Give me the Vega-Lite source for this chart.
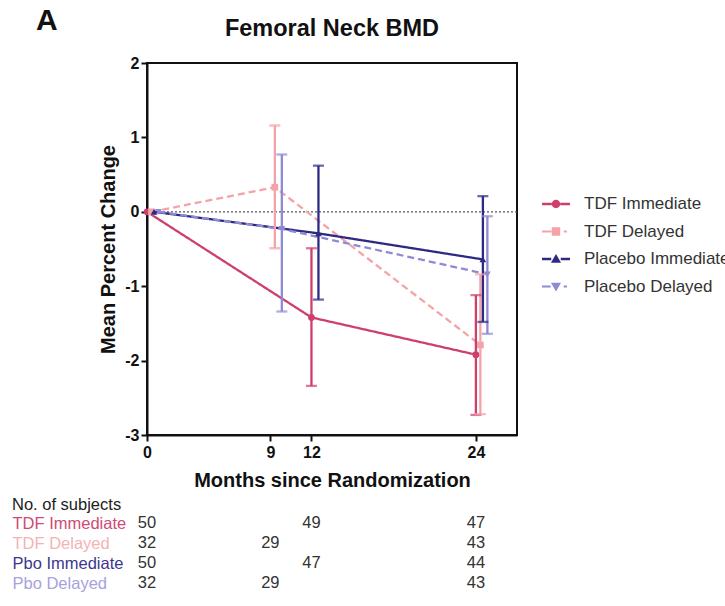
{
  "$schema": "https://vega.github.io/schema/vega-lite/v6.json",
  "background": "white",
  "padding": {"left": 12, "top": 6, "right": 0, "bottom": 0},
  "config": {
    "font": "Liberation Sans",
    "axis": {"grid": false, "labelFlush": false, "domainColor": "#111", "domainWidth": 2, "tickColor": "#111", "tickWidth": 2, "tickSize": 6, "labelFontWeight": "bold", "labelFontSize": 16, "labelColor": "#111", "titleFontSize": 20, "titleFontWeight": "bold", "titleColor": "#111"},
    "legend": {"labelFont": "Liberation Sans"}
  },
  "title": {"text": "A", "anchor": "start", "frame": "bounds", "fontSize": 30, "fontWeight": "bold", "color": "#111", "offset": -20, "dx": 24},
  "datasets": {
    "bmd": [
      {"group": "TDF Immediate", "month": 0, "mean": 0},
      {"group": "TDF Immediate", "month": 12, "mean": -1.42, "lo": -2.34, "hi": -0.49},
      {"group": "TDF Immediate", "month": 24, "mean": -1.92, "lo": -2.73, "hi": -1.12},
      {"group": "TDF Delayed", "month": 0, "mean": 0},
      {"group": "TDF Delayed", "month": 9, "mean": 0.33, "lo": -0.49, "hi": 1.16},
      {"group": "TDF Delayed", "month": 24, "mean": -1.79, "lo": -2.72, "hi": -0.84},
      {"group": "Placebo Immediate", "month": 0, "mean": 0},
      {"group": "Placebo Immediate", "month": 12, "mean": -0.29, "lo": -1.18, "hi": 0.62},
      {"group": "Placebo Immediate", "month": 24, "mean": -0.64, "lo": -1.48, "hi": 0.21},
      {"group": "Placebo Delayed", "month": 0, "mean": 0},
      {"group": "Placebo Delayed", "month": 9, "mean": -0.23, "lo": -1.34, "hi": 0.77},
      {"group": "Placebo Delayed", "month": 24, "mean": -0.84, "lo": -1.64, "hi": -0.06}
    ],
    "counts": [
      {"row": "TDF Immediate", "month": 0, "n": 50},
      {"row": "TDF Immediate", "month": 12, "n": 49},
      {"row": "TDF Immediate", "month": 24, "n": 47},
      {"row": "TDF Delayed", "month": 0, "n": 32},
      {"row": "TDF Delayed", "month": 9, "n": 29},
      {"row": "TDF Delayed", "month": 24, "n": 43},
      {"row": "Pbo Immediate", "month": 0, "n": 50},
      {"row": "Pbo Immediate", "month": 12, "n": 47},
      {"row": "Pbo Immediate", "month": 24, "n": 44},
      {"row": "Pbo Delayed", "month": 0, "n": 32},
      {"row": "Pbo Delayed", "month": 9, "n": 29},
      {"row": "Pbo Delayed", "month": 24, "n": 43}
    ]
  },
  "spacing": 5,
  "resolve": {"scale": {"x": "independent", "y": "independent"}},
  "vconcat": [
    {
      "width": 370,
      "height": 372,
      "view": {"stroke": "#111", "strokeWidth": 2},
      "title": {"text": "Femoral Neck BMD", "fontSize": 23.5, "fontWeight": "bold", "color": "#111", "offset": 14.5, "anchor": "middle"},
      "data": {"name": "bmd"},
      "layer": [
        {
          "data": {"values": [{}]},
          "mark": {"type": "rule", "color": "#555", "strokeDash": [2, 2], "strokeWidth": 1.3},
          "encoding": {
            "y": {"datum": 0, "type": "quantitative", "scale": {"domain": [-3, 2], "nice": false}, "axis": {"values": [-3, -2, -1, 0, 1, 2], "labelExpr": "'' + datum.value", "title": "Mean Percent Change", "labelPadding": 2, "titlePadding": 6}}
          }
        },
        {
          "mark": {"type": "line", "strokeWidth": 2.3,
            "color": {"expr": "datum.group === 'TDF Immediate' ? '#cf3f6c' : datum.group === 'TDF Delayed' ? '#f4a4a8' : datum.group === 'Placebo Immediate' ? '#2e2a84' : '#8f8ad6'"},
            "strokeDash": {"expr": "datum.group === 'TDF Delayed' || datum.group === 'Placebo Delayed' ? [7, 4] : [1, 0]"},
            "xOffset": {"expr": "datum.group === 'TDF Delayed' ? 4.5 : datum.group === 'Placebo Immediate' ? 7 : datum.group === 'Placebo Delayed' ? 11.5 : 0"}},
          "encoding": {
            "x": {"field": "month", "type": "quantitative", "scale": {"domain": [0, 27], "nice": false}, "axis": {"values": [0, 9, 12, 24], "title": "Months since Randomization", "labelPadding": 3, "titlePadding": 10}},
            "y": {"field": "mean", "type": "quantitative", "scale": {"domain": [-3, 2], "nice": false}, "axis": {"values": [-3, -2, -1, 0, 1, 2], "labelExpr": "'' + datum.value", "title": "Mean Percent Change", "labelPadding": 2, "titlePadding": 6}},
            "detail": {"field": "group", "type": "nominal"}
          }
        },
        {
          "mark": {"type": "rule", "strokeWidth": 2.3,
            "color": {"expr": "datum.group === 'TDF Immediate' ? '#cf3f6c' : datum.group === 'TDF Delayed' ? '#f4a4a8' : datum.group === 'Placebo Immediate' ? '#2e2a84' : '#8f8ad6'"},
            "xOffset": {"expr": "datum.group === 'TDF Delayed' ? 4.5 : datum.group === 'Placebo Immediate' ? 7 : datum.group === 'Placebo Delayed' ? 11.5 : 0"}},
          "encoding": {
            "x": {"field": "month", "type": "quantitative", "scale": {"domain": [0, 27], "nice": false}, "axis": {"values": [0, 9, 12, 24], "title": "Months since Randomization", "labelPadding": 3, "titlePadding": 10}},
            "y": {"field": "lo", "type": "quantitative", "scale": {"domain": [-3, 2], "nice": false}, "axis": {"values": [-3, -2, -1, 0, 1, 2], "labelExpr": "'' + datum.value", "title": "Mean Percent Change", "labelPadding": 2, "titlePadding": 6}},
            "y2": {"field": "hi"}
          }
        },
        {
          "mark": {"type": "tick", "orient": "horizontal", "size": 11, "thickness": 2.3,
            "color": {"expr": "datum.group === 'TDF Immediate' ? '#cf3f6c' : datum.group === 'TDF Delayed' ? '#f4a4a8' : datum.group === 'Placebo Immediate' ? '#2e2a84' : '#8f8ad6'"},
            "xOffset": {"expr": "datum.group === 'TDF Delayed' ? 4.5 : datum.group === 'Placebo Immediate' ? 7 : datum.group === 'Placebo Delayed' ? 11.5 : 0"}},
          "encoding": {
            "x": {"field": "month", "type": "quantitative", "scale": {"domain": [0, 27], "nice": false}, "axis": {"values": [0, 9, 12, 24], "title": "Months since Randomization", "labelPadding": 3, "titlePadding": 10}},
            "y": {"field": "lo", "type": "quantitative", "scale": {"domain": [-3, 2], "nice": false}, "axis": {"values": [-3, -2, -1, 0, 1, 2], "labelExpr": "'' + datum.value", "title": "Mean Percent Change", "labelPadding": 2, "titlePadding": 6}}
          }
        },
        {
          "mark": {"type": "tick", "orient": "horizontal", "size": 11, "thickness": 2.3,
            "color": {"expr": "datum.group === 'TDF Immediate' ? '#cf3f6c' : datum.group === 'TDF Delayed' ? '#f4a4a8' : datum.group === 'Placebo Immediate' ? '#2e2a84' : '#8f8ad6'"},
            "xOffset": {"expr": "datum.group === 'TDF Delayed' ? 4.5 : datum.group === 'Placebo Immediate' ? 7 : datum.group === 'Placebo Delayed' ? 11.5 : 0"}},
          "encoding": {
            "x": {"field": "month", "type": "quantitative", "scale": {"domain": [0, 27], "nice": false}, "axis": {"values": [0, 9, 12, 24], "title": "Months since Randomization", "labelPadding": 3, "titlePadding": 10}},
            "y": {"field": "hi", "type": "quantitative", "scale": {"domain": [-3, 2], "nice": false}, "axis": {"values": [-3, -2, -1, 0, 1, 2], "labelExpr": "'' + datum.value", "title": "Mean Percent Change", "labelPadding": 2, "titlePadding": 6}}
          }
        },
        {
          "mark": {"type": "point", "filled": true, "opacity": 1, "size": 45,
            "color": {"expr": "datum.group === 'TDF Immediate' ? '#cf3f6c' : datum.group === 'TDF Delayed' ? '#f4a4a8' : datum.group === 'Placebo Immediate' ? '#2e2a84' : '#8f8ad6'"},
            "shape": {"expr": "datum.group === 'TDF Immediate' ? 'circle' : datum.group === 'TDF Delayed' ? 'square' : datum.group === 'Placebo Immediate' ? 'triangle-up' : 'triangle-down'"},
            "xOffset": {"expr": "datum.group === 'TDF Delayed' ? 4.5 : datum.group === 'Placebo Immediate' ? 7 : datum.group === 'Placebo Delayed' ? 11.5 : 0"}},
          "encoding": {
            "x": {"field": "month", "type": "quantitative", "scale": {"domain": [0, 27], "nice": false}, "axis": {"values": [0, 9, 12, 24], "title": "Months since Randomization", "labelPadding": 3, "titlePadding": 10}},
            "y": {"field": "mean", "type": "quantitative", "scale": {"domain": [-3, 2], "nice": false}, "axis": {"values": [-3, -2, -1, 0, 1, 2], "labelExpr": "'' + datum.value", "title": "Mean Percent Change", "labelPadding": 2, "titlePadding": 6}}
          }
        },
        {
          "transform": [{"filter": "datum.month == 0"}],
          "mark": {"type": "point", "filled": true, "opacity": 0},
          "encoding": {
            "x": {"field": "month", "type": "quantitative", "scale": {"domain": [0, 27], "nice": false}, "axis": {"values": [0, 9, 12, 24], "title": "Months since Randomization", "labelPadding": 3, "titlePadding": 10}},
            "y": {"field": "mean", "type": "quantitative", "scale": {"domain": [-3, 2], "nice": false}, "axis": {"values": [-3, -2, -1, 0, 1, 2], "labelExpr": "'' + datum.value", "title": "Mean Percent Change", "labelPadding": 2, "titlePadding": 6}},
            "fill": {"field": "group", "type": "nominal", "scale": {"domain": ["TDF Immediate", "TDF Delayed", "Placebo Immediate", "Placebo Delayed"], "range": ["#cf3f6c", "#f4a4a8", "#2e2a84", "#8f8ad6"]}, "legend": {"title": null, "orient": "none", "legendX": 395, "legendY": 127, "symbolSize": 784, "symbolOpacity": 1, "symbolStrokeWidth": 0, "labelFontSize": 17, "labelColor": "#333", "labelOffset": 14, "rowPadding": 5.5, "padding": 0}},
            "shape": {"field": "group", "type": "nominal", "scale": {"domain": ["TDF Immediate", "TDF Delayed", "Placebo Immediate", "Placebo Delayed"], "range": [
              "M-1,-0.09H-0.3V0.09H-1Z M0.3,-0.09H1V0.09H0.3Z M0.3,0A0.3,0.3 0 1,1 -0.3,0A0.3,0.3 0 1,1 0.3,0Z",
              "M-1,-0.08H-0.32V0.08H-1Z M-0.3,-0.3H0.3V0.3H-0.3Z M0.55,-0.08H0.78V0.08H0.55Z",
              "M-1,-0.09H-0.34V0.09H-1Z M0.34,-0.09H1V0.09H0.34Z M0,-0.36L0.36,0.26H-0.36Z",
              "M-1,-0.08H-0.38V0.08H-1Z M-0.36,-0.26H0.36L0,0.36Z M0.55,-0.08H0.78V0.08H0.55Z"
            ]}, "legend": {"title": null, "orient": "none", "legendX": 395, "legendY": 127, "symbolSize": 784, "symbolOpacity": 1, "symbolStrokeWidth": 0, "labelFontSize": 17, "labelColor": "#333", "labelOffset": 14, "rowPadding": 5.5, "padding": 0}}
          }
        }
      ]
    },
    {
      "width": 370,
      "height": 80,
      "view": {"stroke": null},
      "title": {"text": "No. of subjects", "anchor": "start", "frame": "bounds", "fontSize": 16.5, "fontWeight": "normal", "color": "#222", "offset": 0},
      "data": {"name": "counts"},
      "mark": {"type": "text", "fontSize": 16.5, "color": "#333"},
      "encoding": {
        "x": {"field": "month", "type": "quantitative", "scale": {"domain": [0, 27], "nice": false}, "axis": null},
        "y": {"field": "row", "type": "nominal", "sort": ["TDF Immediate", "TDF Delayed", "Pbo Immediate", "Pbo Delayed"], "scale": {"type": "point", "padding": 0.5}, "axis": {"title": null, "domain": false, "ticks": false, "tickSize": 0, "labelAlign": "left", "labelPadding": 135, "labelFontSize": 16.5, "labelFontWeight": "normal", "labelColor": {"expr": "datum.value == 'TDF Immediate' ? '#cf4a74' : datum.value == 'TDF Delayed' ? '#f5b2b5' : datum.value == 'Pbo Immediate' ? '#3b378c' : '#a6a2de'"}}},
        "text": {"field": "n", "type": "quantitative"}
      }
    }
  ]
}
